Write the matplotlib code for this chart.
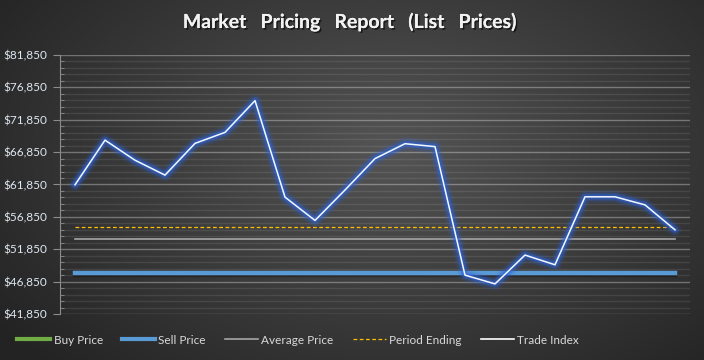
import numpy as np
import matplotlib
matplotlib.use("Agg")
import matplotlib.pyplot as plt
from matplotlib.ticker import MultipleLocator, FuncFormatter
import matplotlib.patheffects as pe

# ── Data ──────────────────────────────────────────────────────────────────
periods = list(range(1, 22))
trade_index = [61800, 68700, 65600, 63300, 68200, 69900, 74800, 59900, 56300,
               61000, 65850, 68150, 67700, 47850, 46500, 50950, 49450, 59950,
               59950, 58700, 54850]
sell_price = [48160] * 21
buy_price = [48160] * 21
average_price = [53480] * 21
period_ending = [55290] * 21

Y_MIN, Y_MAX = 41850, 81850

plt.rcParams["font.family"] = ["Lato", "DejaVu Sans"]

fig = plt.figure(figsize=(7.04, 3.6), dpi=100)

# radial dark background
bg = fig.add_axes([0, 0, 1, 1], zorder=-10)
yy, xx = np.mgrid[0:360, 0:704]
r = np.sqrt(((xx - 390) / 480.0) ** 2 + ((yy - 150) / 300.0) ** 2)
shade = np.clip(0.33 - 0.19 * r, 0.14, 0.33)
bg.imshow(np.dstack([shade] * 3), aspect="auto", extent=[0, 1, 0, 1])
bg.axis("off")

ax = fig.add_axes([60 / 704, 1 - 314 / 360, 630 / 704, 259 / 360])
ax.patch.set_alpha(0)

x = np.arange(len(periods))
ax.set_xlim(-0.5, len(periods) - 0.5)
ax.set_ylim(Y_MIN, Y_MAX)

# grid
ax.yaxis.set_major_locator(MultipleLocator(5000, offset=Y_MIN % 5000))
ax.yaxis.set_minor_locator(MultipleLocator(1000, offset=Y_MIN % 1000))
ax.grid(axis="y", which="major", color="white", alpha=0.32, lw=1.0)
ax.grid(axis="y", which="minor", color="white", alpha=0.09, lw=1.0)
ax.set_axisbelow(True)
ax.set_xticks([])

for s in ["top", "right", "bottom"]:
    ax.spines[s].set_visible(False)
ax.spines["left"].set_color("#8c8c8c")
ax.tick_params(axis="y", which="major", direction="out", length=5,
               color="#8c8c8c", labelcolor="#dfe8f2", labelsize=8.5, pad=4)
ax.tick_params(axis="y", which="minor", direction="in", length=3,
               color="#8c8c8c")
ax.yaxis.set_major_formatter(FuncFormatter(lambda v, _: f"${v:,.0f}"))

# reference lines
shadow = [pe.SimpleLineShadow(offset=(0, -1.5), shadow_color="black", alpha=0.35),
          pe.Normal()]
ax.plot(x, buy_price, color="#70ad47", lw=2.0, label="Buy Price", zorder=1)
ax.plot(x, sell_price, color="#5b9bd5", lw=3.2, label="Sell Price", zorder=3,
        path_effects=shadow)
ax.plot(x, average_price, color="#a6a6a6", lw=1.2, label="Average Price", zorder=3)
ax.plot(x, period_ending, color="#ffc000", lw=0.9, ls=(0, (3, 2)),
        label="Period Ending", zorder=3)

# trade index with blue glow
for w, a in [(10, 0.08), (8, 0.12), (6, 0.2), (4.5, 0.3), (3, 0.45)]:
    ax.plot(x, trade_index, color="#2e63d6", lw=w, alpha=a, zorder=4,
            solid_joinstyle="round", solid_capstyle="round")
ax.plot(x, trade_index, color="#f4f8ff", lw=1.1, label="Trade Index", zorder=5)

handles, labels = ax.get_legend_handles_labels()
legend_handles = [plt.Line2D([], [], color="#70ad47", lw=3),
                  plt.Line2D([], [], color="#5b9bd5", lw=3),
                  plt.Line2D([], [], color="#a6a6a6", lw=1.2),
                  plt.Line2D([], [], color="#ffc000", lw=0.9, ls=(0, (3, 2))),
                  plt.Line2D([], [], color="#ffffff", lw=1.2)]
leg = fig.legend(legend_handles,
                 ["Buy Price", "Sell Price", "Average Price", "Period Ending",
                  "Trade Index"],
                 loc="center", bbox_to_anchor=(298 / 704, 1 - 340 / 360),
                 ncol=5, frameon=False, fontsize=8.5, handlelength=2.8,
                 handletextpad=0.3, columnspacing=1.6)
for t in leg.get_texts():
    t.set_color("#d9d9d9")

fig.text(0.498, 1 - 22 / 360, "Market   Pricing   Report   (List   Prices)",
         ha="center", va="center", fontsize=14, fontweight="bold",
         color="#f2f2f2",
         path_effects=[pe.withSimplePatchShadow(offset=(1.2, -1.2),
                                                shadow_rgbFace="#111111",
                                                alpha=0.8), pe.Normal()])

fig.savefig("out.png", dpi=100)
